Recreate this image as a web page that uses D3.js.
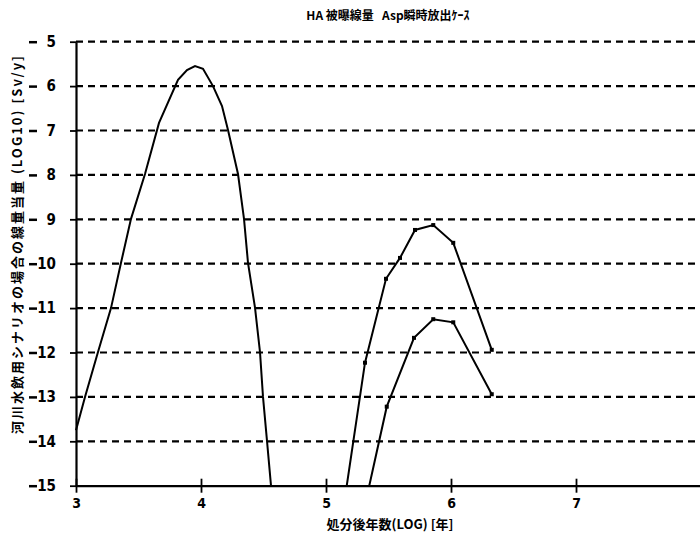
<!DOCTYPE html>
<html>
<head>
<meta charset="utf-8">
<script src="https://cdn.jsdelivr.net/npm/d3@7"></script>
<style>
  body { margin: 0; background: #fff; }
  text { font-family: "Noto Sans CJK JP", "DejaVu Sans", sans-serif; fill: #000; }
</style>
</head>
<body>
<div id="chart"></div>
<script>
// data (x = log10 years, y = log10 Sv/y)
let titleText = "HA 被曝線量   Asp瞬時放出ｹｰｽ";
let xTitle = "処分後年数(LOG) [年]";
let yTitle = "河川水飲用シナリオの場合の線量当量 (LOG10) [Sv/y]";
let xTicks = [3, 4, 5, 6, 7];
let yTicks = [-5, -6, -7, -8, -9, -10, -11, -12, -13, -14, -15];

let peakX = [3.0, 3.072, 3.176, 3.28, 3.36, 3.44, 3.552, 3.664, 3.816, 3.888, 3.952, 4.016, 4.096, 4.168, 4.216, 4.296, 4.344, 4.376, 4.432, 4.472, 4.496, 4.528, 4.56];
let peakY = [-13.75, -13.0, -11.99, -11.0, -9.98, -8.99, -7.98, -6.83, -5.86, -5.64, -5.55, -5.61, -6.0, -6.45, -6.99, -7.98, -8.99, -9.98, -10.99, -11.99, -13.0, -13.99, -15];
let upperX = [5.166, 5.312, 5.48, 5.592, 5.712, 5.858, 6.018, 6.326];
let upperY = [-15, -12.23, -10.34, -9.87, -9.24, -9.13, -9.53, -11.94];
let lowerX = [5.346, 5.486, 5.704, 5.858, 6.018, 6.326];
let lowerY = [-15, -13.22, -11.67, -11.25, -11.32, -12.94];

let width = 700, height = 539;
let mLeft = 76, mRight = 701, mTop = 41.7, mBottom = 485.7;

const svg = d3.select("#chart").append("svg")
              .attr("width", width)
              .attr("height", height);

const x = d3.scaleLinear().domain([3, 8]).range([mLeft, mRight]);
const y = d3.scaleLinear().domain([-5, -15]).range([mTop, mBottom]);

// dashed grid lines
svg.append("g")
   .selectAll("line")
   .data(yTicks.filter(d => d > -15))
   .enter()
   .append("line")
   .attr("x1", mLeft)
   .attr("x2", 700)
   .attr("y1", d => y(d))
   .attr("y2", d => y(d))
   .attr("stroke", "#000")
   .attr("stroke-width", 2.2)
   .attr("stroke-dasharray", "7,5");

// x axis
const xAxis = d3.axisBottom(x).tickValues(xTicks).tickSize(7).tickSizeOuter(0).tickFormat(d3.format("d"));
const gx = svg.append("g")
              .attr("transform", "translate(0," + mBottom + ")")
              .call(xAxis);
gx.select(".domain").attr("stroke-width", 2.2);
gx.selectAll(".tick line").attr("y1", -7).attr("y2", 7).attr("stroke-width", 1.8);
gx.selectAll(".tick text")
  .attr("y", 12)
  .style("font-size", "14px")
  .style("font-weight", "bold")
  .style("font-family", "'DejaVu Sans Condensed', sans-serif");

// y axis
const yAxis = d3.axisLeft(y).tickValues(yTicks).tickSize(6).tickSizeOuter(0).tickFormat(d => Math.abs(d));
const gy = svg.append("g")
              .attr("transform", "translate(" + mLeft + ",0)")
              .call(yAxis);
gy.select(".domain").attr("stroke-width", 2.2);
gy.selectAll(".tick line").attr("stroke-width", 1.8);
gy.selectAll(".tick text")
  .attr("x", -20)
  .style("font-size", "15px")
  .style("font-weight", "bold")
  .style("font-family", "'DejaVu Sans Condensed', sans-serif");
gy.selectAll(".tick")
  .append("line")
  .attr("class", "minus")
  .attr("x1", -47)
  .attr("x2", -39)
  .attr("y1", 0)
  .attr("y2", 0)
  .attr("stroke", "#000")
  .attr("stroke-width", 2.5);

// curves
let series = [
  {xs: peakX, ys: peakY, marks: false},
  {xs: upperX, ys: upperY, marks: true},
  {xs: lowerX, ys: lowerY, marks: true}
];

const line = d3.line().x(d => x(d[0])).y(d => y(d[1]));

series.forEach(s => {
  let pts = s.xs.map((v, i) => [v, s.ys[i]]);
  svg.append("path")
     .datum(pts)
     .attr("d", line)
     .attr("fill", "none")
     .attr("stroke", "#000")
     .attr("stroke-width", 2);
  if (s.marks) {
    svg.append("g")
       .selectAll("rect")
       .data(pts.filter(p => p[1] > -15))
       .enter()
       .append("rect")
       .attr("x", d => x(d[0]) - 2)
       .attr("y", d => y(d[1]) - 2)
       .attr("width", 4)
       .attr("height", 4)
       .attr("fill", "#000");
  }
});

// titles
svg.append("text")
   .attr("x", 388)
   .attr("y", 20)
   .attr("text-anchor", "middle")
   .attr("xml:space", "preserve")
   .style("white-space", "pre")
   .style("font-size", "12px")
   .style("font-weight", "bold")
   .text(titleText);

svg.append("text")
   .attr("x", 390)
   .attr("y", 529)
   .attr("text-anchor", "middle")
   .style("font-size", "13px")
   .style("font-weight", "bold")
   .text(xTitle);

svg.append("text")
   .attr("transform", "translate(22,244) rotate(-90)")
   .attr("text-anchor", "middle")
   .style("font-size", "13px")
   .style("font-weight", "bold")
   .style("letter-spacing", "2px")
   .text(yTitle);
</script>
</body>
</html>
